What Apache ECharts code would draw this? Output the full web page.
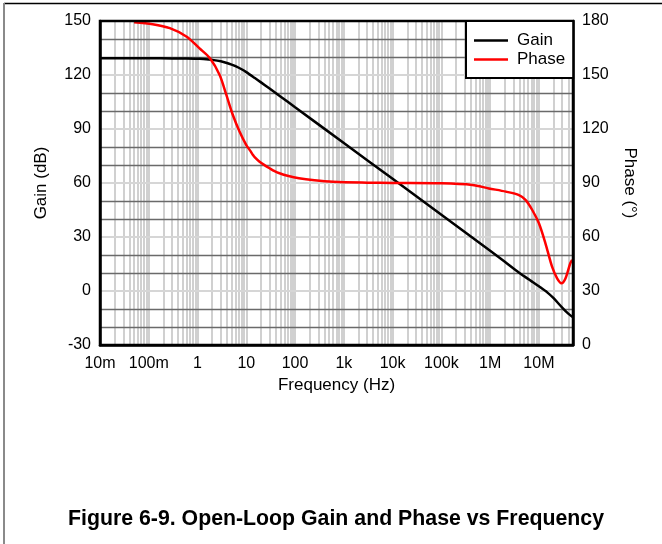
<!DOCTYPE html>
<html><head><meta charset="utf-8">
<script src="https://cdn.jsdelivr.net/npm/echarts@6/dist/echarts.min.js"></script>
<style>html,body{margin:0;padding:0;background:#fff}#c{width:662px;height:544px}</style>
</head><body><div id="c"></div>
<script>
const FONT = '"Liberation Sans", Arial, sans-serif';

const GAIN_FREQ = [0.01, 0.1, 0.3, 0.6, 1, 1.5, 2, 3, 4, 5, 6, 8, 10, 15, 20, 30, 50, 100, 1e3, 1e4, 1e5, 1e6, 2e6, 4e6, 7e6, 1e7, 1.5e7, 2e7, 3e7, 4e7, 5e7];
const GAIN_DB   = [129.3, 129.3, 129.2, 129.2, 129.0, 128.8, 128.4, 127.6, 126.7, 125.8, 124.9, 123.2, 121.6, 118.3, 115.9, 112.5, 108.1, 102.1, 82.2, 62.3, 42.3, 22.3, 16.2, 10.0, 5.5, 2.6, -0.9, -4.0, -9.2, -12.6, -14.6];

const PHASE_FREQ = [0.05, 0.12, 0.27, 0.6, 1.1, 1.8, 2.84, 3.9, 5.3, 7.3, 10, 12, 13.7, 15, 18.7, 24, 30, 38, 48, 70, 120, 250, 600, 3e3, 1e4, 1e5, 4.3e5, 9.4e5, 2.1e6, 3.9e6, 5.3e6, 7.3e6, 1e7, 1.36e7, 1.86e7, 2.36e7, 2.9e7, 3.5e7, 4.4e7, 4.8e7];
const PHASE_DEG  = [179.3, 178.2, 176.0, 171.3, 164.8, 159.3, 150.0, 138.9, 127.8, 118.5, 111.1, 108.0, 105.6, 104.2, 101.8, 99.8, 98.2, 96.6, 95.4, 94.0, 92.6, 91.5, 90.7, 90.2, 90.0, 89.8, 88.9, 87.0, 85.2, 83.3, 80.6, 75.0, 67.6, 56.5, 43.5, 37.0, 34.3, 37.0, 45.4, 47.2];

const X_TICK_VALUES = [0.01, 0.1, 1, 10, 100, 1e3, 1e4, 1e5, 1e6, 1e7];
const X_TICK_LABELS = ['10m', '100m', '1', '10', '100', '1k', '10k', '100k', '1M', '10M'];
const X_MIN = 0.01, X_MAX = 5e7;
const GAIN_MIN = -30, GAIN_MAX = 150, GAIN_STEP = 30;
const PHASE_MIN = 0, PHASE_MAX = 180, PHASE_STEP = 30;
const MINOR_MULT = [1, 2, 3, 4, 5, 6, 7, 8, 9];

const vGrid = [];
for (let e = -2; e <= 7; e++) {
  for (const m of MINOR_MULT) {
    const v = Number((m * Math.pow(10, e)).toPrecision(6));
    if (v > X_MIN * 1.0001 && v < X_MAX * 0.9999) vGrid.push(v);
  }
}

function xLabel(v) {
  for (let i = 0; i < X_TICK_VALUES.length; i++) {
    if (Math.abs(Math.log10(v) - Math.log10(X_TICK_VALUES[i])) < 1e-6) return X_TICK_LABELS[i];
  }
  return '';
}

const chart = echarts.init(document.getElementById('c'), null, {renderer: 'canvas'});
chart.setOption({
  animation: false,
  backgroundColor: '#fff',
  textStyle: {fontFamily: FONT},
  grid: {left: 100, right: 89, top: 21, bottom: 199, show: true, borderColor: '#000', borderWidth: 2.5, backgroundColor: 'transparent', z: 4},
  legend: {
    orient: 'vertical', left: 466, top: 21,
    padding: [10, 8, 9, 8], itemGap: 0, itemWidth: 34, itemHeight: 2.5, icon: 'rect',
    backgroundColor: '#fff', borderColor: '#000', borderWidth: 2, borderRadius: 0,
    textStyle: {fontSize: 17, fontFamily: FONT, color: '#000', lineHeight: 19, padding: [0, 0, 0, 4]},
    data: ['Gain', 'Phase'], selectedMode: false, z: 6
  },
  xAxis: {
    type: 'log', logBase: 10, min: X_MIN, max: X_MAX, splitNumber: 10, z: 2,
    axisLine: {show: true, onZero: false, lineStyle: {color: '#000', width: 2.5}},
    axisTick: {show: false},
    splitLine: {show: false},
    axisLabel: {formatter: xLabel, margin: 11, fontSize: 16, color: '#000', fontFamily: FONT, hideOverlap: false},
    name: 'Frequency (Hz)', nameLocation: 'middle', nameGap: 30,
    nameTextStyle: {fontSize: 17, color: '#000', fontFamily: FONT}
  },
  yAxis: [
    {
      type: 'value', min: GAIN_MIN, max: GAIN_MAX, interval: GAIN_STEP, position: 'left', z: 2,
      axisLine: {show: true, onZero: false, lineStyle: {color: '#000', width: 2.5}},
      axisTick: {show: false},
      axisLabel: {fontSize: 16, color: '#000', margin: 9, fontFamily: FONT},
      splitLine: {show: true, lineStyle: {color: '#d6d6d6', width: 1.8}},
      minorTick: {show: false, splitNumber: 3},
      minorSplitLine: {show: true, lineStyle: {color: '#6a6a6a', width: 1.4}},
      name: 'Gain (dB)', nameLocation: 'middle', nameGap: 50,
      nameTextStyle: {fontSize: 17, color: '#000', fontFamily: FONT}
    },
    {
      type: 'value', min: PHASE_MIN, max: PHASE_MAX, interval: PHASE_STEP, position: 'right', z: 2,
      axisLine: {show: true, onZero: false, lineStyle: {color: '#000', width: 2.5}},
      axisTick: {show: false},
      axisLabel: {fontSize: 16, color: '#000', margin: 9, fontFamily: FONT},
      splitLine: {show: false},
      name: 'Phase (°)', nameLocation: 'middle', nameGap: 48, nameRotate: -90,
      nameTextStyle: {fontSize: 17, color: '#000', fontFamily: FONT}
    }
  ],
  series: [
    {
      name: 'Gain', type: 'line', yAxisIndex: 0, z: 3,
      data: GAIN_FREQ.map((f, i) => [f, GAIN_DB[i]]),
      symbol: 'none', smooth: 0.3,
      lineStyle: {color: '#000', width: 2.5}, itemStyle: {color: '#000'},
      emphasis: {disabled: true},
      markLine: {
        silent: true, z: 1, symbol: ['none', 'none'], label: {show: false},
        lineStyle: {color: '#d0d0d0', width: 2, type: 'solid', opacity: 1},
        emphasis: {disabled: true},
        data: vGrid.map(v => ({xAxis: v}))
      }
    },
    {
      name: 'Phase', type: 'line', yAxisIndex: 1, z: 3,
      data: PHASE_FREQ.map((f, i) => [f, PHASE_DEG[i]]),
      symbol: 'none', smooth: 0.3,
      lineStyle: {color: '#ff0000', width: 2.5}, itemStyle: {color: '#ff0000'},
      emphasis: {disabled: true}
    }
  ],
  graphic: [
    {type: 'line', silent: true, shape: {x1: 4, y1: 3.5, x2: 662, y2: 3.5}, style: {stroke: '#000', lineWidth: 1.5}},
    {type: 'line', silent: true, shape: {x1: 4, y1: 3, x2: 4, y2: 544}, style: {stroke: '#8a8a8a', lineWidth: 2}},
    {type: 'text', silent: true, x: 336, y: 519,
     style: {text: 'Figure 6-9. Open-Loop Gain and Phase vs Frequency', font: 'bold 21.3px "Liberation Sans", Arial, sans-serif',
             fill: '#000', textAlign: 'center', textVerticalAlign: 'middle', align: 'center', verticalAlign: 'middle'}}
  ]
});
</script>
</body></html>
